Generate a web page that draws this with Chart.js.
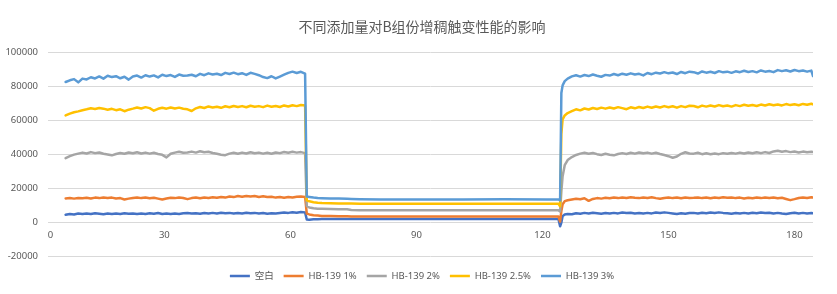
<!DOCTYPE html>
<html>
<head>
<meta charset="utf-8">
<script src="https://cdn.jsdelivr.net/npm/chart.js@4/dist/chart.umd.min.js"></script>
<style>
html,body{margin:0;padding:0;background:#fff;}
#wrap{width:837px;height:294px;}
</style>
</head>
<body>
<div id="wrap"><canvas id="c" width="837" height="294"></canvas></div>
<script>
const title = "不同添加量对B组份增稠触变性能的影响";
const seriesNames = ["空白", "HB-139 1%", "HB-139 2%", "HB-139 2.5%", "HB-139 3%"];
const xTicks = [0, 30, 60, 90, 120, 150, 180];
const yTicks = [-20000, 0, 20000, 40000, 60000, 80000, 100000];
const xAxisMin = 2.3;
const xAxisMax = 184.4;

// time (s)
const timeX = [
  6.5,7.5,8.5,9.5,10.5,11.5,12.5,13.5,14.5,15.5,
  16.5,17.5,18.5,19.5,20.5,21.5,22.5,23.5,24.5,25.5,
  26.5,27.5,28.5,29.5,30.5,31.5,32.5,33.5,34.5,
  35.5,36.5,37.5,38.5,39.5,40.5,41.5,42.5,43.5,44.5,
  45.5,46.5,47.5,48.5,49.5,50.5,51.5,52.5,53.5,54.5,
  55.5,56.5,57.5,58.5,59.5,60.5,61.5,62.5,63.5,
  63.9,64.5,65.5,66.5,67.5,69.5,71.5,73.5,74.5,76.5,81.5,91,101,111,121,123.8,
  124.2,124.5,124.8,125.3,
  126,127,128,129,130,131,132,133,134,135,
  136,137,138,139,140,141,142,143,144,145,
  146,147,148,149,150,151,152,153,154,155,
  156,157,158,159,160,161,162,163,164,
  165,166,167,168,169,170,171,172,173,174,
  175,176,177,178,179,180,181,182,183,184,
  184.4
];

const blank = [
  4300,4800,4500,5000,4700,5100,4800,5200,4900,4600,
  5000,4700,5100,4800,5200,4900,5100,4700,5000,4800,
  5200,4900,5300,4800,5100,4700,5000,4800,5200,
  5300,5000,5200,4900,5300,5000,5400,5100,5500,5200,
  5400,5000,5300,5100,5500,5200,5400,5100,5300,4900,
  5200,5000,5300,5600,5400,5800,5500,5900,5700,
  1500,1300,1600,1700,1800,1800,1800,1800,1800,1800,1800,1800,1800,1800,1800,1800,
  -2500,-300,3500,4500,
  4800,4600,5200,4900,5400,5100,5500,5200,4900,5300,
  5000,5400,5100,5600,5300,5500,5100,5300,5000,5400,
  5100,5600,5300,5700,5400,5100,4800,5200,4900,5300,
  5400,5100,5500,5200,5600,5300,5700,5400,5200,
  4900,5300,5000,5400,5100,5500,5200,5600,5300,5500,
  5100,5400,5000,4700,5200,5500,5100,5400,5000,5300,
  5200
];

const hb1 = [
  13900,14100,13800,14200,14000,14300,13900,14400,14100,14500,
  14200,14400,13900,14100,13300,13800,14200,14500,14100,14400,
  14000,14300,13800,13300,13900,14300,14100,14500,14200,
  13500,14100,14400,14000,14500,14200,14600,14300,14800,14400,
  15000,14700,15300,14900,15400,15000,15300,14800,15200,14700,
  14900,14400,14800,14300,14700,14500,14900,15100,14800,
  5000,4500,4000,3800,3600,3500,3400,3400,3300,3300,3300,3300,3300,3300,3300,3300,
  300,6500,10500,12300,
  12800,13300,13700,13400,14000,12500,13600,14100,13800,14300,
  14000,14400,14100,14500,14200,14600,14300,14100,14500,14200,
  14600,14100,13700,14200,14500,14100,14400,14000,14500,14200,
  14300,14500,14100,14400,14000,14500,14200,14600,14300,
  14500,14100,14400,13900,14300,14000,14400,14100,14500,14200,
  14400,14000,14300,13600,12900,13500,14200,14500,14200,14600,
  14400
];

const hb2 = [
  37600,38800,39700,40300,40900,40400,41200,40600,41000,40200,
  39800,39300,40100,40700,40200,41000,40500,41100,40400,40900,
  40300,40800,40100,39600,38100,40200,40900,41400,40800,
  41000,41500,40900,41700,41100,41400,40700,40200,39700,39400,
  40300,40800,40200,40900,40400,41100,40500,40900,40300,40800,
  40200,41000,40600,41300,40800,41400,40900,41200,40600,
  9500,8600,8100,7900,7800,7700,7600,7500,7100,7000,7000,7000,7000,7000,7000,7000,
  6200,18000,27000,33500,
  36500,38300,39500,40300,40800,40200,40700,40000,39500,40200,
  39700,39300,40100,40600,40100,40800,40300,41000,40500,40900,
  40300,40800,40100,39500,38800,37900,38600,40200,41100,40400,
  40300,40800,40000,40500,39900,40400,40000,40600,40200,
  40700,40300,40900,40400,41000,40500,41100,40600,41200,40700,
  41600,42000,41400,41800,41200,41600,41000,41500,41100,41400,
  41200
];

const hb25 = [
  62800,63900,64700,65200,65900,66400,67000,66600,67200,66800,
  66200,66700,65900,66400,65300,66200,66800,67500,66900,67700,
  67100,65600,66700,67300,66800,67500,66900,67400,66700,
  66400,65400,67000,67800,67200,68100,67500,67900,67300,68200,
  67600,68400,67800,68300,67600,68500,67900,68300,67700,68600,
  67900,68400,67800,68700,68100,68800,68300,69000,68600,
  12800,12200,11700,11400,11200,11100,11000,10900,10900,10800,10800,10800,10800,10800,10800,10800,
  9300,52000,60500,62800,
  64200,65300,66400,65800,66900,66300,67200,66600,67400,66800,
  67500,66900,67700,67100,66500,67600,67000,67800,67200,68000,
  67300,68100,67500,68300,67600,68200,67400,68300,67700,68500,
  68400,67600,68600,68000,68700,68100,68900,68200,68700,
  68000,68900,68300,69100,68500,69000,68400,69200,68700,69400,
  68800,69300,68700,69500,68900,69400,68800,69600,69100,69700,
  69300
];

const hb3 = [
  82500,83500,84200,82300,84500,84000,85300,84600,85800,84500,
  86200,85400,85900,84700,85600,83900,85800,86300,85100,86500,
  85700,86400,85200,86800,86000,86600,85500,86900,86200,
  86300,86800,85900,87300,86500,87600,86900,87400,86600,87900,
  87200,88000,87100,87700,86700,87900,87300,86500,85400,84800,
  85900,84600,85700,86800,87900,88600,87800,88500,87400,
  15000,14800,14400,14100,14000,13900,13800,13700,13600,13500,13300,13300,13300,13400,13300,13300,
  12800,76000,80500,83000,
  84500,85800,86500,85700,86600,86000,86900,86200,85600,86700,
  86300,87200,86500,87400,86800,87600,86900,87300,86400,87800,
  87100,88000,87500,88300,87600,88100,87200,88400,87700,88600,
  88300,87500,88700,88000,88500,87800,88900,88200,88600,
  87900,88800,88300,89100,88400,88900,88200,89300,88600,89000,
  88300,89500,88900,89400,88700,89600,88900,89300,88600,89200,
  86000
];

const seriesValues = [blank, hb1, hb2, hb25, hb3];
const seriesColors = ["#4472C4", "#ED7D31", "#A5A5A5", "#FFC000", "#5B9BD5"];

const datasets = seriesValues.map((vals, i) => ({
  label: seriesNames[i],
  data: vals.map((v, k) => ({x: timeX[k], y: v})),
  borderColor: seriesColors[i],
  backgroundColor: seriesColors[i],
  borderWidth: 2.5,
  pointRadius: 0,
  tension: 0,
  borderJoinStyle: 'round',
  borderCapStyle: 'round',
  fill: false,
  order: seriesValues.length - i
}));

const textColor = '#595959';
const gridColor = '#D9D9D9';
const baseFont = '"Noto Sans", "Noto Sans CJK SC", sans-serif';

// shift title and legend to centre them like the reference
const centerShift = {
  id: 'centerShift',
  afterLayout(chart) {
    const d = 15.5;
    if (chart.legend) { chart.legend.left += d; chart.legend.right += d; }
    if (chart.titleBlock) { chart.titleBlock.left += d; chart.titleBlock.right += d; }
  }
};

new Chart(document.getElementById('c'), {
  type: 'line',
  data: { datasets },
  plugins: [centerShift],
  options: {
    responsive: false,
    devicePixelRatio: 1,
    animation: false,
    layout: { padding: { left: 0, right: 24, top: 0, bottom: 3.25 } },
    plugins: {
      title: {
        display: true,
        text: title,
        color: textColor,
        font: { family: '"Noto Sans CJK SC", sans-serif', size: 14, weight: 'normal', lineHeight: 1.2 },
        padding: { top: 18.6, bottom: 16.9 }
      },
      legend: {
        position: 'bottom',
        title: { display: true, text: ' ', padding: 0, font: { size: 5.25, lineHeight: 1 } },
        labels: {
          usePointStyle: true,
          pointStyle: 'line',
          pointStyleWidth: 20,
          padding: 10,
          color: textColor,
          font: { family: baseFont, size: 9.5 },
          sort: (a, b) => a.datasetIndex - b.datasetIndex
        }
      },
      tooltip: { enabled: false }
    },
    scales: {
      x: {
        type: 'linear',
        position: { y: 0 },
        min: xAxisMin,
        max: xAxisMax,
        // the reference prints its first label "0" right at the axis start
        afterBuildTicks: (s) => { s.ticks = xTicks.map(v => ({ value: v < xAxisMin ? xAxisMin + 0.6 : v })); },
        grid: { display: false, drawTicks: false },
        border: { display: false },
        ticks: {
          color: textColor,
          font: { family: baseFont, size: 9.5 },
          padding: 8,
          maxRotation: 0,
          autoSkip: false,
          callback: (v, i) => String(xTicks[i])
        }
      },
      y: {
        type: 'linear',
        min: -20000,
        max: 100000,
        afterBuildTicks: (s) => { s.ticks = yTicks.map(v => ({ value: v })); },
        afterFit: (s) => { s.width = 48; },
        grid: { color: gridColor, lineWidth: 1, drawTicks: false },
        border: { display: false },
        ticks: {
          color: textColor,
          font: { family: baseFont, size: 9.5 },
          padding: 10,
          callback: (v) => String(v)
        }
      }
    }
  }
});
</script>
</body>
</html>
